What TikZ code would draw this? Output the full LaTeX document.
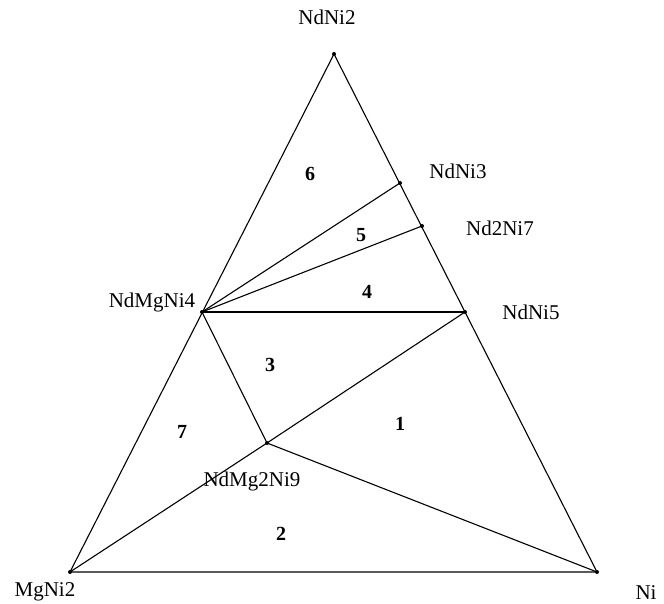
\documentclass[tikz,border=0pt]{standalone}
\usepackage{fontspec}
\setmainfont{Liberation Serif}
\begin{document}
\begin{tikzpicture}[x=1pt,y=-1pt,
  pt/.style={circle,fill=black,inner sep=0pt,minimum size=4pt},
  lbl/.style={font=\fontsize{21}{24}\selectfont,inner sep=0pt},
  reg/.style={font=\fontsize{20}{24}\selectfont\bfseries,inner sep=0pt},
  tie/.style={line width=1.1pt}]
\useasboundingbox (0,0) rectangle (664,604);
% compositions
\node[pt] (NdNi2) at (334,54) {};
\node[pt] (MgNi2) at (70,572) {};
\node[pt] (Ni) at (597,572) {};
\node[pt] (NdNi3) at (400,183) {};
\node[pt] (Nd2Ni7) at (422,226) {};
\node[pt] (NdMgNi4) at (202,312) {};
\node[pt] (NdNi5) at (465,312) {};
\node[pt] (NdMg2Ni9) at (267,443) {};
% outer triangle
\draw[tie] (NdNi2.center) -- (MgNi2.center) -- (Ni.center) -- cycle;
% tie lines
\draw[tie] (NdMgNi4.center) -- (NdNi3.center);
\draw[tie] (NdMgNi4.center) -- (Nd2Ni7.center);
\draw[tie] (NdMgNi4.center) -- (NdNi5.center);
\draw[tie] (NdMgNi4.center) -- (NdMg2Ni9.center);
\draw[tie] (MgNi2.center) -- (NdMg2Ni9.center) -- (NdNi5.center);
\draw[tie] (NdMg2Ni9.center) -- (Ni.center);
% phase labels
\node[lbl] (tNdNi2) at (327,17) {NdNi2};
\node[lbl] (tNdNi3) at (458,171) {NdNi3};
\node[lbl] (tNd2Ni7) at (500,228) {Nd2Ni7};
\node[lbl] (tNdMgNi4) at (152,302) {NdMgNi4};
\node[lbl] (tNdNi5) at (531,312) {NdNi5};
\node[lbl] (tNdMg2Ni9) at (252,481) {NdMg2Ni9};
\node[lbl] (tMgNi2) at (45,592) {MgNi2};
\node[lbl] (tNi) at (646,593) {Ni};
% region numbers
\node[reg] (r1) at (400,424) {1};
\node[reg] (r2) at (281,534) {2};
\node[reg] (r3) at (270,365) {3};
\node[reg] (r4) at (367,292) {4};
\node[reg] (r5) at (361,235) {5};
\node[reg] (r6) at (310,174) {6};
\node[reg] (r7) at (182,432) {7};
\end{tikzpicture}
\end{document}
